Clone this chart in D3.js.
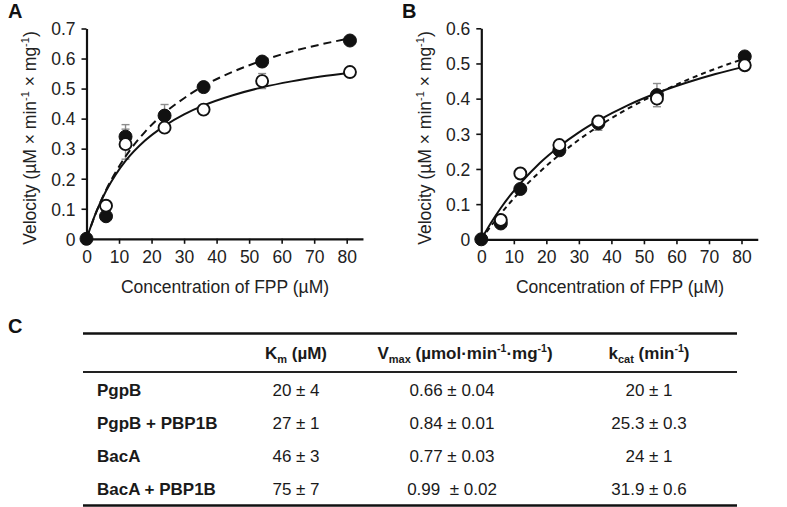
<!DOCTYPE html>
<html>
<head>
<meta charset="utf-8">
<script src="https://cdn.jsdelivr.net/npm/d3@7"></script>
<style>
  html, body { margin: 0; padding: 0; background: #fff; }
  svg { display: block; font-family: "Liberation Sans", Arial, Helvetica, sans-serif; }
</style>
</head>
<body>
<svg id="chart" width="787" height="507"></svg>
<script>
// ---------- data ----------
const conc = [0, 6, 12, 24, 36, 54, 81];                       // FPP concentration (µM)
const xTicks = [0, 10, 20, 30, 40, 50, 60, 70, 80];
const aTicksY = [0, 0.1, 0.2, 0.3, 0.4, 0.5, 0.6, 0.7];
const bTicksY = [0, 0.1, 0.2, 0.3, 0.4, 0.5, 0.6];

// Panel A
const aFilled = [0, 0.075, 0.34, 0.41, 0.505, 0.59, 0.66];
const aFilledErr = [0, 0, 0.04, 0.037, 0.005, 0.005, 0.005];
const aOpen = [0, 0.11, 0.315, 0.37, 0.43, 0.525, 0.555];
const aOpenErr = [0, 0.005, 0.05, 0.01, 0.005, 0.025, 0.01];

// Panel B
const bFilled = [0, 0.045, 0.143, 0.253, 0.33, 0.41, 0.52];
const bFilledErr = [0, 0.005, 0.005, 0.01, 0.02, 0.033, 0.005];
const bOpen = [0, 0.055, 0.187, 0.268, 0.335, 0.40, 0.495];
const bOpenErr = [0, 0.005, 0.005, 0.01, 0.01, 0.01, 0.005];

// fitted curves
const fitX = [0, 3, 6, 9, 12, 18, 24, 30, 36, 45, 54, 63, 72, 81];
const aSolidFit  = [0, 0.090, 0.159, 0.214, 0.259, 0.327, 0.376, 0.414, 0.444, 0.478, 0.504, 0.524, 0.540, 0.553];
const aDashedFit = [0, 0.089, 0.162, 0.222, 0.274, 0.356, 0.419, 0.468, 0.509, 0.556, 0.593, 0.623, 0.647, 0.667];
const bSolidFit  = [0, 0.047, 0.089, 0.126, 0.159, 0.217, 0.264, 0.304, 0.338, 0.381, 0.416, 0.445, 0.470, 0.491];
const bDashedFit = [0, 0.038, 0.073, 0.106, 0.137, 0.192, 0.240, 0.283, 0.321, 0.371, 0.414, 0.452, 0.485, 0.514];

// Table C
const tableHeaders = ["Km", "Vmax", "kcat"];
const enzymes = ["PgpB", "PgpB + PBP1B", "BacA", "BacA + PBP1B"];
const kmValues = ["20 ± 4", "27 ± 1", "46 ± 3", "75 ± 7"];
const vmaxValues = ["0.66 ± 0.04", "0.84 ± 0.01", "0.77 ± 0.03", "0.99  ± 0.02"];
const kcatValues = ["20 ± 1", "25.3 ± 0.3", "24 ± 1", "31.9 ± 0.6"];

// ---------- drawing ----------
const svg = d3.select("#chart");
const GRAY = "#8c8c8c";

function superTitle(sel) {
  // Velocity (µM × min-1 × mg-1)
  sel.append("tspan").text("Velocity (µM × min");
  sel.append("tspan").attr("font-size", 11).attr("dy", -7).text("-1");
  sel.append("tspan").attr("dy", 7).text(" × mg");
  sel.append("tspan").attr("font-size", 11).attr("dy", -7).text("-1");
  sel.append("tspan").attr("dy", 7).text(")");
}

function panel(opt) {
  const x = d3.scaleLinear().domain([0, 85]).range([opt.x0, opt.x0 + 85 * 3.2525]);
  const y = d3.scaleLinear().domain([0, opt.ymax]).range([opt.y0, opt.ytop]);
  const g = svg.append("g");

  // axes
  const xa = g.append("g").attr("transform", `translate(0,${opt.y0})`)
    .call(d3.axisBottom(x).tickValues(xTicks).tickSize(5).tickPadding(5).tickSizeOuter(0).tickFormat(d3.format("d")));
  const ya = g.append("g").attr("transform", `translate(${opt.x0},0)`)
    .call(d3.axisLeft(y).tickValues(opt.yTicks).tickSize(5).tickPadding(6).tickSizeOuter(0)
      .tickFormat(d => d === 0 ? "0" : d3.format(".1f")(d)));
  [xa, ya].forEach(a => {
    a.select(".domain").attr("stroke", "#111").attr("stroke-width", 2.2);
    a.selectAll(".tick line").attr("stroke", "#111").attr("stroke-width", 1.6);
    a.selectAll(".tick text").attr("fill", "#222").attr("font-size", 17.5)
      .attr("font-family", "'Liberation Sans', Arial, sans-serif");
  });
  ya.selectAll(".tick text").attr("dy", "0.36em");
  xa.selectAll(".tick text").attr("dy", "0.8em");

  // axis titles
  g.append("text").attr("x", opt.xTitleX).attr("y", 293).attr("text-anchor", "middle")
    .attr("font-size", 17.5).attr("fill", "#222").text("Concentration of FPP (µM)");
  const yt = g.append("text").attr("transform", `translate(${opt.yTitleX},138) rotate(-90)`)
    .attr("text-anchor", "middle").attr("font-size", 17.5).attr("fill", "#222");
  superTitle(yt);

  // panel label
  g.append("text").attr("x", opt.labelX).attr("y", 18).attr("font-size", 20)
    .attr("font-weight", "bold").attr("fill", "#111").text(opt.label);

  // error bars
  function errBars(vals, errs) {
    const d = conc.map((c, i) => ({ c, v: vals[i], e: errs[i] })).filter(d => d.e > 0);
    const eb = g.append("g").attr("stroke", GRAY).attr("stroke-width", 1.4);
    eb.selectAll("line.v").data(d).join("line")
      .attr("x1", d => x(d.c)).attr("x2", d => x(d.c))
      .attr("y1", d => y(d.v - d.e)).attr("y2", d => y(d.v + d.e));
    eb.selectAll("line.t").data(d).join("line")
      .attr("x1", d => x(d.c) - 4).attr("x2", d => x(d.c) + 4)
      .attr("y1", d => y(d.v + d.e)).attr("y2", d => y(d.v + d.e));
    eb.selectAll("line.b").data(d).join("line")
      .attr("x1", d => x(d.c) - 4).attr("x2", d => x(d.c) + 4)
      .attr("y1", d => y(d.v - d.e)).attr("y2", d => y(d.v - d.e));
  }
  errBars(opt.filled, opt.filledErr);
  errBars(opt.open, opt.openErr);

  // fit lines
  const line = d3.line().x((d, i) => x(fitX[i])).y(d => y(d)).curve(d3.curveMonotoneX);
  g.append("path").attr("d", line(opt.solidFit)).attr("fill", "none")
    .attr("stroke", "#111").attr("stroke-width", 2);
  g.append("path").attr("d", line(opt.dashedFit)).attr("fill", "none")
    .attr("stroke", "#111").attr("stroke-width", 2).attr("stroke-dasharray", opt.dash);

  // markers
  g.append("g").selectAll("circle").data(opt.filled).join("circle")
    .attr("cx", (d, i) => x(conc[i])).attr("cy", d => y(d)).attr("r", 6.5)
    .attr("fill", "#111").attr("stroke", "#111").attr("stroke-width", 1);
  g.append("g").selectAll("circle").data(opt.open).join("circle")
    .filter((d, i) => i > 0)
    .attr("cx", (d, i) => x(conc[i + 1])).attr("cy", d => y(d)).attr("r", 6)
    .attr("fill", "#fff").attr("stroke", "#111").attr("stroke-width", 1.9);
}

panel({
  label: "A", labelX: 8, x0: 86.5, y0: 238.8, ytop: 28.5, ymax: 0.7, yTicks: aTicksY,
  xTitleX: 225, yTitleX: 36,
  filled: aFilled, filledErr: aFilledErr, open: aOpen, openErr: aOpenErr,
  solidFit: aSolidFit, dashedFit: aDashedFit, dash: "8,5"
});
panel({
  label: "B", labelX: 402, x0: 481.3, y0: 239.3, ytop: 28.3, ymax: 0.6, yTicks: bTicksY,
  xTitleX: 620, yTitleX: 431,
  filled: bFilled, filledErr: bFilledErr, open: bOpen, openErr: bOpenErr,
  solidFit: bSolidFit, dashedFit: bDashedFit, dash: "5,4"
});

// ---------- table C ----------
const t = svg.append("g").attr("fill", "#1a1a1a");
svg.append("text").attr("x", 8).attr("y", 333).attr("font-size", 20)
  .attr("font-weight", "bold").attr("fill", "#111").text("C");

const tx0 = 83, tx1 = 737;
t.append("line").attr("x1", tx0).attr("x2", tx1).attr("y1", 333.5).attr("y2", 333.5)
  .attr("stroke", "#111").attr("stroke-width", 2.6);
t.append("line").attr("x1", tx0).attr("x2", tx1).attr("y1", 372).attr("y2", 372)
  .attr("stroke", "#222").attr("stroke-width", 1.8);
t.append("line").attr("x1", tx0).attr("x2", tx1).attr("y1", 505.5).attr("y2", 505.5)
  .attr("stroke", "#111").attr("stroke-width", 2.6);

const colX = { km: 296, vmaxH: 465, vmax: 452, kcat: 649 };
const headerY = 359;
const FS = 17;

// header Km (µM)
let h = t.append("text").attr("x", colX.km).attr("y", headerY).attr("text-anchor", "middle")
  .attr("font-size", FS).attr("font-weight", "bold");
h.append("tspan").text(tableHeaders[0].slice(0, 1));
h.append("tspan").attr("font-size", 11).attr("dy", 4).text(tableHeaders[0].slice(1));
h.append("tspan").attr("dy", -4).text(" (µM)");

// header Vmax (µmol·min-1·mg-1)
h = t.append("text").attr("x", colX.vmaxH).attr("y", headerY).attr("text-anchor", "middle")
  .attr("font-size", FS).attr("font-weight", "bold");
h.append("tspan").text(tableHeaders[1].slice(0, 1));
h.append("tspan").attr("font-size", 11).attr("dy", 4).text(tableHeaders[1].slice(1));
h.append("tspan").attr("dy", -4).text(" (µmol·min");
h.append("tspan").attr("font-size", 10.5).attr("dy", -7).text("-1");
h.append("tspan").attr("dy", 7).text("·mg");
h.append("tspan").attr("font-size", 10.5).attr("dy", -7).text("-1");
h.append("tspan").attr("dy", 7).text(")");

// header kcat (min-1)
h = t.append("text").attr("x", colX.kcat).attr("y", headerY).attr("text-anchor", "middle")
  .attr("font-size", FS).attr("font-weight", "bold");
h.append("tspan").text(tableHeaders[2].slice(0, 1));
h.append("tspan").attr("font-size", 11).attr("dy", 4).text(tableHeaders[2].slice(1));
h.append("tspan").attr("dy", -4).text(" (min");
h.append("tspan").attr("font-size", 10.5).attr("dy", -7).text("-1");
h.append("tspan").attr("dy", 7).text(")");

const rowY = d3.scalePoint().domain(enzymes).range([396, 495]);
t.selectAll("text.name").data(enzymes).join("text").attr("class", "name")
  .attr("x", 97).attr("y", d => rowY(d)).attr("font-size", FS).attr("font-weight", "bold").text(d => d);
t.selectAll("text.km").data(kmValues).join("text").attr("class", "km")
  .attr("x", colX.km).attr("y", (d, i) => rowY(enzymes[i])).attr("text-anchor", "middle")
  .attr("font-size", FS).style("white-space", "pre").text(d => d);
t.selectAll("text.vmax").data(vmaxValues).join("text").attr("class", "vmax")
  .attr("x", colX.vmax).attr("y", (d, i) => rowY(enzymes[i])).attr("text-anchor", "middle")
  .attr("font-size", FS).style("white-space", "pre").text(d => d);
t.selectAll("text.kcat").data(kcatValues).join("text").attr("class", "kcat")
  .attr("x", colX.kcat).attr("y", (d, i) => rowY(enzymes[i])).attr("text-anchor", "middle")
  .attr("font-size", FS).style("white-space", "pre").text(d => d);
</script>
</body>
</html>
